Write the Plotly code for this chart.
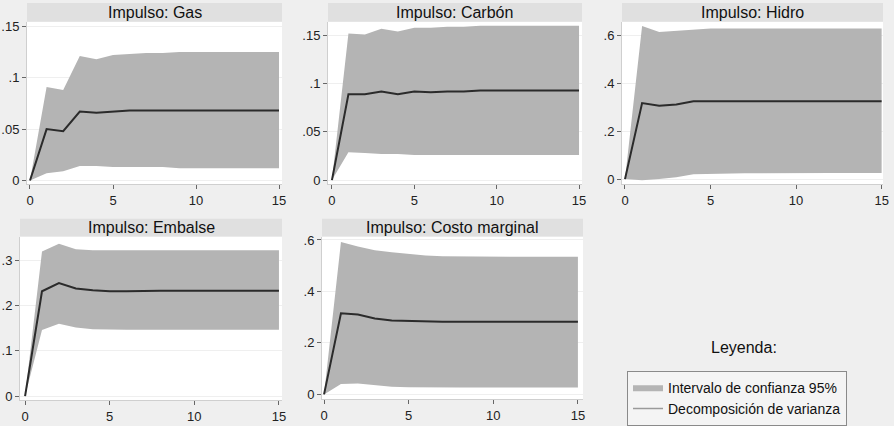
import plotly.graph_objects as go

W, H = 894, 426

periods = list(range(16))

gas_vd = [0, 0.050, 0.048, 0.067, 0.066, 0.067, 0.068, 0.068, 0.068, 0.068, 0.068, 0.068, 0.068, 0.068, 0.068, 0.068]
gas_hi = [0, 0.091, 0.088, 0.121, 0.118, 0.122, 0.123, 0.124, 0.124, 0.125, 0.125, 0.125, 0.125, 0.125, 0.125, 0.125]
gas_lo = [0, 0.007, 0.009, 0.014, 0.014, 0.013, 0.013, 0.013, 0.013, 0.012, 0.012, 0.012, 0.012, 0.012, 0.012, 0.012]

carbon_vd = [0, 0.089, 0.089, 0.092, 0.089, 0.092, 0.091, 0.092, 0.092, 0.093, 0.093, 0.093, 0.093, 0.093, 0.093, 0.093]
carbon_hi = [0, 0.152, 0.151, 0.157, 0.154, 0.158, 0.158, 0.159, 0.159, 0.160, 0.160, 0.160, 0.160, 0.160, 0.160, 0.160]
carbon_lo = [0, 0.029, 0.028, 0.027, 0.027, 0.026, 0.026, 0.026, 0.026, 0.026, 0.026, 0.026, 0.026, 0.026, 0.026, 0.026]

hidro_vd = [0, 0.318, 0.307, 0.312, 0.325, 0.325, 0.325, 0.325, 0.325, 0.325, 0.325, 0.325, 0.325, 0.325, 0.325, 0.325]
hidro_hi = [0, 0.640, 0.615, 0.620, 0.628, 0.630, 0.630, 0.630, 0.630, 0.630, 0.630, 0.630, 0.630, 0.630, 0.630, 0.630]
hidro_lo = [0, -0.005, 0.000, 0.008, 0.020, 0.022, 0.023, 0.024, 0.024, 0.025, 0.025, 0.025, 0.025, 0.025, 0.025, 0.025]

embalse_vd = [0, 0.232, 0.250, 0.238, 0.234, 0.232, 0.232, 0.233, 0.233, 0.233, 0.233, 0.233, 0.233, 0.233, 0.233, 0.233]
embalse_hi = [0, 0.320, 0.337, 0.325, 0.323, 0.323, 0.323, 0.323, 0.323, 0.323, 0.323, 0.323, 0.323, 0.323, 0.323, 0.323]
embalse_lo = [0, 0.146, 0.160, 0.152, 0.148, 0.147, 0.147, 0.147, 0.147, 0.147, 0.147, 0.147, 0.147, 0.147, 0.147, 0.147]

costo_vd = [0, 0.315, 0.310, 0.295, 0.287, 0.285, 0.283, 0.282, 0.282, 0.282, 0.282, 0.282, 0.282, 0.282, 0.282, 0.282]
costo_hi = [0, 0.592, 0.575, 0.560, 0.552, 0.545, 0.540, 0.537, 0.536, 0.535, 0.535, 0.535, 0.535, 0.535, 0.535, 0.535]
costo_lo = [0, 0.040, 0.042, 0.035, 0.030, 0.028, 0.027, 0.027, 0.027, 0.027, 0.027, 0.027, 0.027, 0.027, 0.027, 0.027]

titles = ["Impulso: Gas", "Impulso: Carbón", "Impulso: Hidro", "Impulso: Embalse", "Impulso: Costo marginal"]
x_ticks = [0, 5, 10, 15]
y_tick_vals = [
    [0, 0.05, 0.1, 0.15],
    [0, 0.05, 0.1, 0.15],
    [0, 0.2, 0.4, 0.6],
    [0, 0.1, 0.2, 0.3],
    [0, 0.2, 0.4, 0.6],
]
y_tick_text = [
    ["0", ".05", ".1", ".15"],
    ["0", ".05", ".1", ".15"],
    ["0", ".2", ".4", ".6"],
    ["0", ".1", ".2", ".3"],
    ["0", ".2", ".4", ".6"],
]
legend_band = "Intervalo de confianza 95%"
legend_line = "Decomposición de varianza"

series = [
    (gas_vd, gas_lo, gas_hi),
    (carbon_vd, carbon_lo, carbon_hi),
    (hidro_vd, hidro_lo, hidro_hi),
    (embalse_vd, embalse_lo, embalse_hi),
    (costo_vd, costo_lo, costo_hi),
]

# layout geometry (pixels): plot area box, title bar, axis ranges
panels = [
    dict(px=(27, 282), py=(22, 187), ty=(3, 22), xr=[-0.18, 15.18], yr=[-0.0038, 0.1545]),
    dict(px=(328, 582), py=(22, 187), ty=(3, 22), xr=[-0.24, 15.18], yr=[-0.0044, 0.1643]),
    dict(px=(622, 883), py=(22, 187), ty=(3, 22), xr=[-0.175, 15.08], yr=[-0.022, 0.658]),
    dict(px=(20, 282), py=(240, 406), ty=(222, 240), xr=[-0.3, 15.18], yr=[-0.0094, 0.353]),
    dict(px=(322, 583), py=(240, 405), ty=(222, 240), xr=[-0.12, 15.3], yr=[-0.019, 0.613]),
]

BAND = "#b4b4b4"
LINE = "#2b2b2b"
FONT = "Liberation Sans, Arial, sans-serif"

fig = go.Figure()
shapes = []
annotations = []
layout_axes = {}

for i, (p, (vd, lo, hi)) in enumerate(zip(panels, series)):
    n = i + 1
    xa = "x" if n == 1 else f"x{n}"
    ya = "y" if n == 1 else f"y{n}"
    fig.add_trace(go.Scatter(x=periods, y=lo, xaxis=xa, yaxis=ya, mode="lines",
                             line=dict(width=0, color=BAND), showlegend=False, hoverinfo="skip"))
    fig.add_trace(go.Scatter(x=periods, y=hi, xaxis=xa, yaxis=ya, mode="lines",
                             line=dict(width=0, color=BAND), fill="tonexty", fillcolor=BAND,
                             showlegend=False))
    fig.add_trace(go.Scatter(x=periods, y=vd, xaxis=xa, yaxis=ya, mode="lines",
                             line=dict(width=2, color=LINE), showlegend=False))

    x0, x1 = p["px"][0] / W, p["px"][1] / W
    y0, y1 = 1 - p["py"][1] / H, 1 - p["py"][0] / H
    xk = "xaxis" if n == 1 else f"xaxis{n}"
    yk = "yaxis" if n == 1 else f"yaxis{n}"
    layout_axes[xk] = dict(domain=[x0, x1], anchor=ya, range=p["xr"], tickvals=x_ticks,
                           ticks="outside", ticklen=4, tickcolor="#666", showgrid=False,
                           zeroline=False, showline=True, linecolor="#cfcfcf", linewidth=1,
                           tickfont=dict(size=13, color="#222", family=FONT), fixedrange=True,
                           automargin=False)
    layout_axes[yk] = dict(domain=[y0, y1], anchor=xa, range=p["yr"], tickvals=y_tick_vals[i],
                           ticktext=y_tick_text[i], ticks="outside", ticklen=4, tickcolor="#666",
                           showgrid=True, gridcolor="#efefef", gridwidth=1,
                           zeroline=False, showline=True, linecolor="#cfcfcf", linewidth=1,
                           tickfont=dict(size=13, color="#222", family=FONT), fixedrange=True,
                           automargin=False)

    ty0, ty1 = 1 - p["ty"][1] / H, 1 - p["ty"][0] / H
    shapes.append(dict(type="rect", xref="paper", yref="paper", x0=x0, x1=x1, y0=ty0, y1=ty1,
                       fillcolor="#e0e0e0", line=dict(width=0), layer="below"))
    annotations.append(dict(text=titles[i], xref="paper", yref="paper", x=(x0 + x1) / 2,
                            y=(ty0 + ty1) / 2, xanchor="center", yanchor="middle", showarrow=False,
                            font=dict(size=16, color="#111", family=FONT)))

# legend entries
fig.add_trace(go.Scatter(x=[None], y=[None], mode="lines", fill="toself", fillcolor=BAND,
                         line=dict(width=0, color=BAND), name=legend_band, showlegend=True))
fig.add_trace(go.Scatter(x=[None], y=[None], mode="lines", line=dict(width=1.5, color="#9a9a9a"),
                         name=legend_line, showlegend=True))

annotations.append(dict(text="Leyenda:", xref="paper", yref="paper", x=744 / W, y=1 - 352 / H,
                        xanchor="center", yanchor="middle", showarrow=False,
                        font=dict(size=16, color="#111", family=FONT)))

fig.update_layout(
    width=W, height=H,
    margin=dict(l=0, r=0, t=0, b=0),
    paper_bgcolor="#efefef",
    plot_bgcolor="#ffffff",
    font=dict(family=FONT, color="#111"),
    shapes=shapes,
    annotations=annotations,
    showlegend=True,
    legend=dict(x=627 / W, y=1 - 376 / H, xanchor="left", yanchor="top",
                bgcolor="#f4f4f4", bordercolor="#8a8a8a", borderwidth=1,
                font=dict(size=14, color="#111", family=FONT),
                traceorder="normal", tracegroupgap=0, itemwidth=30),
    **layout_axes,
)

fig.write_html("out.html", config={"displayModeBar": False},
               post_script="document.body.style.margin='0';document.body.style.padding='0';")
